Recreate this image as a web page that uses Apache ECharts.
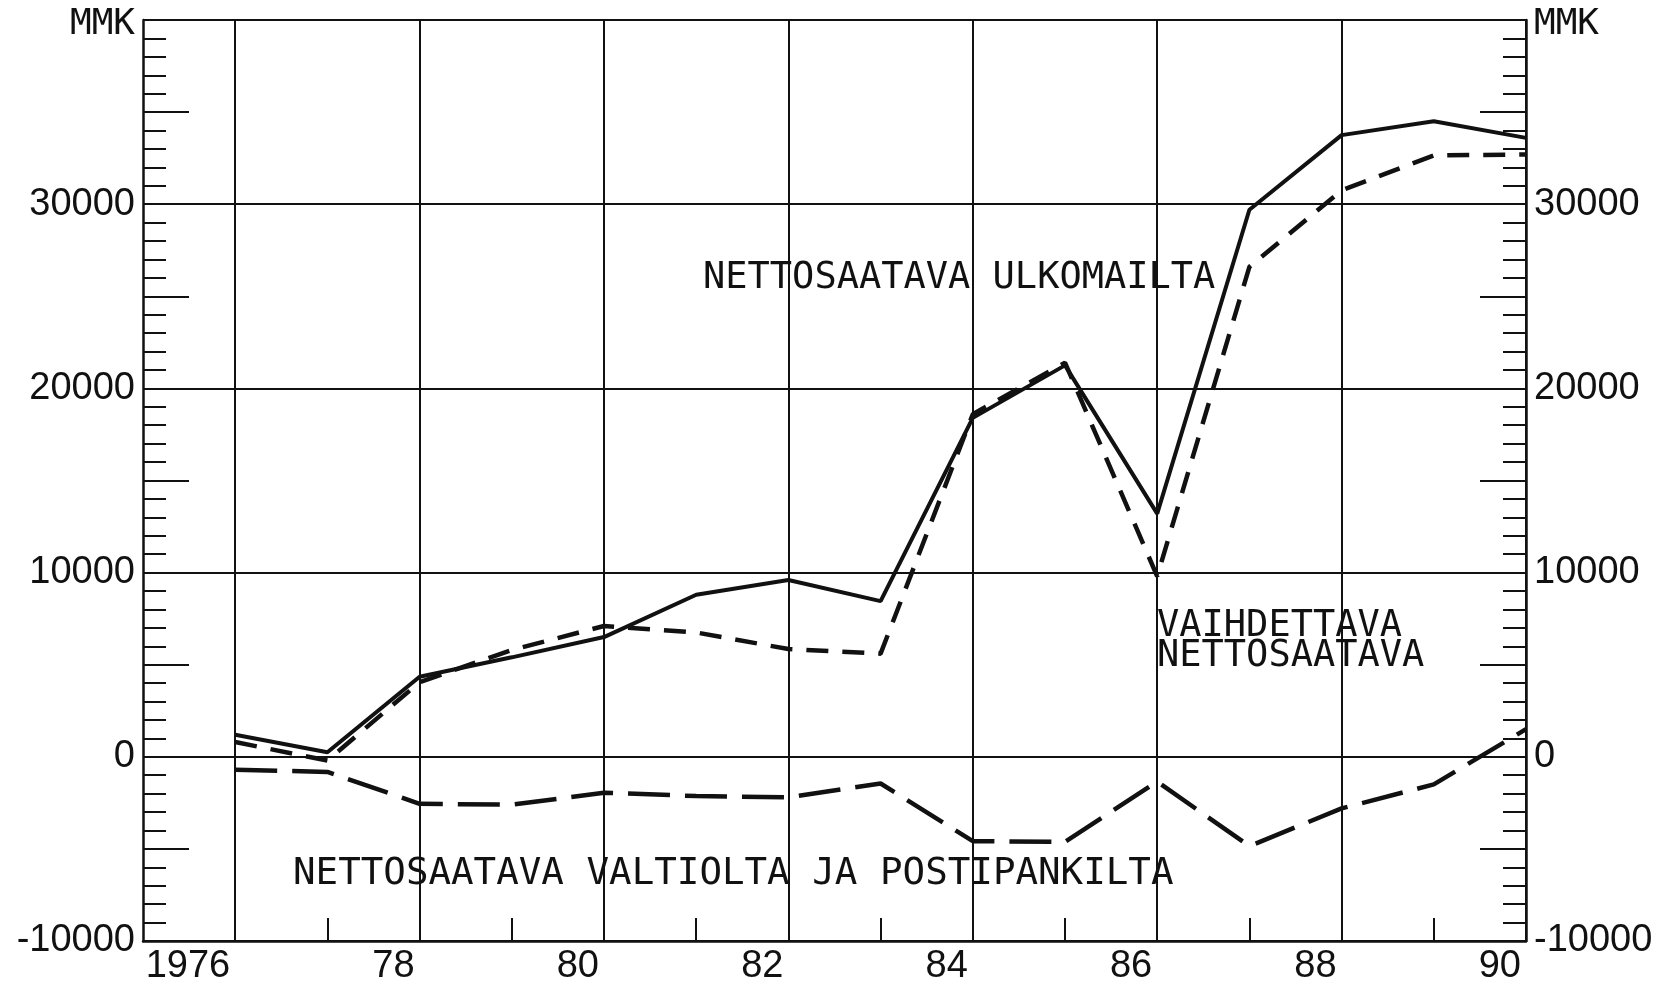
<!DOCTYPE html>
<html>
<head>
<meta charset="utf-8">
<title>Nettosaatava 1976-1990</title>
<style>
  html, body { margin: 0; padding: 0; background: #fff; }
  #chart { width: 1665px; height: 989px; }
</style>
<script src="https://cdn.jsdelivr.net/npm/echarts@6/dist/echarts.min.js"></script>
</head>
<body>
<div id="chart"></div>
<script>
// vuodet (vuoden lopun tilanne), MMK
const years = [1976, 1977, 1978, 1979, 1980, 1981, 1982, 1983, 1984, 1985, 1986, 1987, 1988, 1989, 1990]
const ulkomailta = [1200, 250, 4350, 5400, 6500, 8800, 9600, 8450, 18400, 21250, 13200, 29700, 33750, 34500, 33600]
const vaihdettava = [800, -200, 4050, 5800, 7100, 6750, 5850, 5600, 18600, 21400, 9800, 26600, 30750, 32650, 32700]
const valtiolta = [-700, -820, -2550, -2600, -1950, -2130, -2200, -1450, -4580, -4620, -1350, -4850, -2800, -1500, 1500]

// akselit
const gridYears = [1976, 1978, 1980, 1982, 1984, 1986, 1988, 1990]
const xTickLabels = ["1976", "78", "80", "82", "84", "86", "88", "90"]
const oddYears = [1977, 1979, 1981, 1983, 1985, 1987, 1989]
const yTicks = [-10000, 0, 10000, 20000, 30000, 40000]
const yTickLabels = ["-10000", "0", "10000", "20000", "30000", "MMK"]

const ink = "#111"
const numFont = "Liberation Sans"
const monoFont = "DejaVu Sans Mono"

const toPairs = (vals) => years.map((y, i) => [y, vals[i]])

const yLabel = (v) => {
  const i = yTicks.indexOf(v)
  if (i < 0) return ""
  return v === 40000 ? "{u|" + yTickLabels[i] + "}" : yTickLabels[i]
}

const yLabelStyle = {
  color: ink,
  fontFamily: numFont,
  fontSize: 38,
  margin: 8,
  formatter: yLabel,
  rich: {
    u: { fontFamily: monoFont, fontSize: 36, color: ink, padding: [9, 0, 0, 0] },
  },
}

// pääakseli (jakoviivat + numerot) ja 5000 välein pidemmät merkit
const makeY = (pos, withGrid) => [
  {
    type: "value",
    position: pos,
    min: -10000,
    max: 40000,
    interval: 10000,
    axisLine: { show: true, onZero: false, lineStyle: { color: ink, width: 2.5 } },
    axisTick: { show: true, inside: true, length: 23, lineStyle: { color: ink, width: 2 } },
    minorTick: { show: true, splitNumber: 10, length: 23, lineStyle: { color: ink, width: 2 } },
    axisLabel: yLabelStyle,
    splitLine: { show: withGrid, lineStyle: { color: ink, width: 2 } },
  },
  {
    type: "value",
    position: pos,
    min: -10000,
    max: 40000,
    interval: 5000,
    axisLine: { show: false, onZero: false },
    axisTick: { show: true, inside: true, length: 46, lineStyle: { color: ink, width: 2 } },
    axisLabel: { show: false },
    splitLine: { show: false },
  },
]

const option = {
  animation: false,
  backgroundColor: "#fff",
  grid: { left: 143, right: 139, top: 20, bottom: 48, containLabel: false, outerBoundsMode: "none" },
  xAxis: [
    {
      type: "value",
      position: "bottom",
      min: 1975,
      max: 1990,
      axisLine: { show: true, onZero: false, lineStyle: { color: ink, width: 2.5 } },
      axisTick: { show: false, customValues: gridYears },
      axisLabel: {
        customValues: gridYears,
        formatter: (v) => xTickLabels[gridYears.indexOf(v)] || "",
        align: "right",
        padding: [0, 5, 0, 0],
        margin: 7,
        color: ink,
        fontFamily: numFont,
        fontSize: 38,
      },
      splitLine: { show: true, lineStyle: { color: ink, width: 2 } },
    },
    {
      type: "value",
      position: "bottom",
      min: 1975,
      max: 1990,
      axisLine: { show: false, onZero: false },
      axisTick: { show: true, inside: true, length: 23, customValues: oddYears, lineStyle: { color: ink, width: 2 } },
      axisLabel: { show: false },
      splitLine: { show: false },
    },
  ],
  yAxis: [...makeY("left", true), ...makeY("right", false)],
  series: [
    {
      name: "NETTOSAATAVA ULKOMAILTA",
      type: "line",
      data: toPairs(ulkomailta),
      symbol: "none",
      lineStyle: { color: ink, width: 4 },
    },
    {
      name: "VAIHDETTAVA NETTOSAATAVA",
      type: "line",
      data: toPairs(vaihdettava),
      symbol: "none",
      lineStyle: { color: ink, width: 4.5, type: [22, 14] },
    },
    {
      name: "NETTOSAATAVA VALTIOLTA JA POSTIPANKILTA",
      type: "line",
      data: toPairs(valtiolta),
      symbol: "none",
      lineStyle: { color: ink, width: 4.5, type: [42, 15] },
    },
  ],
  // sarjojen nimet kuvan sisällä
  graphic: [
    {
      type: "text",
      x: 703,
      y: 278,
      style: { text: "NETTOSAATAVA ULKOMAILTA", font: "37px \"DejaVu Sans Mono\"", fill: ink, verticalAlign: "middle" },
    },
    {
      type: "text",
      x: 1157,
      y: 641,
      style: { text: "VAIHDETTAVA\nNETTOSAATAVA", font: "37px \"DejaVu Sans Mono\"", lineHeight: 30, fill: ink, verticalAlign: "middle" },
    },
    {
      type: "text",
      x: 293,
      y: 874,
      style: { text: "NETTOSAATAVA VALTIOLTA JA POSTIPANKILTA", font: "37.5px \"DejaVu Sans Mono\"", fill: ink, verticalAlign: "middle" },
    },
  ],
}

const chart = echarts.init(document.getElementById("chart"))
chart.setOption(option)
window.addEventListener("resize", () => chart.resize())
</script>
</body>
</html>
